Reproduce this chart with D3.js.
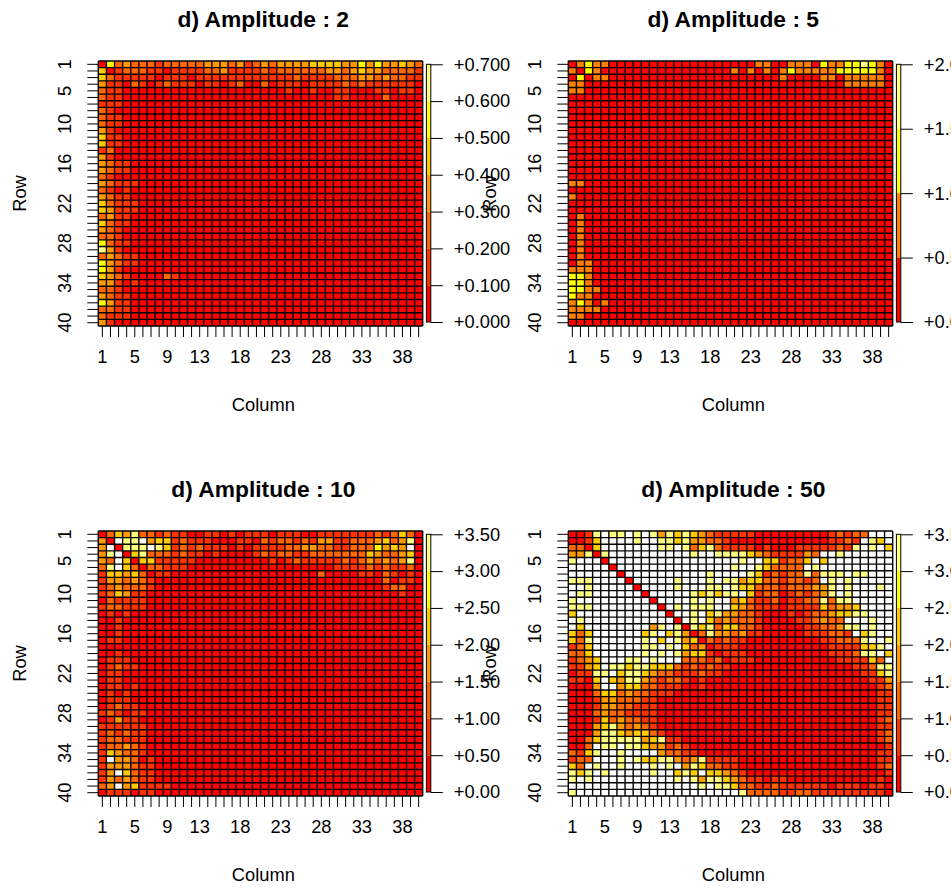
<!DOCTYPE html>
<html>
<head>
<meta charset="utf-8">
<script src="https://cdn.jsdelivr.net/npm/d3@7"></script>
<style>
html, body { margin: 0; padding: 0; background: #fff; overflow: hidden; }
svg { display: block; }
text { font-family: "Liberation Sans", Arial, sans-serif; fill: #000; }
</style>
</head>
<body>
<svg width="951" height="888"></svg>
<script>
// Each row is read off the picture, one character per column:
// 0-6 is the colour band of the cell, w is a white cell (above the colour range)
var matrixAmp2 = [
  "0523222122 2223332312 3233334444 3353533432",
  "4012221101 1112231111 2122222233 2343322221",
  "4211111011 1011111111 1111211112 2233232211",
  "3110210121 1101101200 2011101111 2121111110",
  "2110000000 0000000000 0001001001 1000110110",
  "2110000000 0000000000 0000000001 1000020000",
  "1110000000 0000000000 0000000000 0000000000",
  "2100000000 0000000000 0000000000 0000000000",
  "2110000000 0000000000 0000000000 0000000000",
  "2110000000 0000000000 0000000000 0000000000",
  "3100000000 0000000000 0000000000 0000000000",
  "4110000000 0000000000 0000000000 0000000000",
  "4110000000 0000000000 0000000000 0000000000",
  "1200000000 0000000000 0000000000 0000000000",
  "3100000000 0000000000 0000000000 0000000000",
  "3211000000 0000000000 0000000000 0000000000",
  "3211000000 0000000000 0000000000 0000000000",
  "2100000000 0000000000 0000000000 0000000000",
  "3211100000 0000000000 0000000000 0000000000",
  "2101000000 0000000000 0000000000 0000000000",
  "3211000000 0000000000 0000000000 0000000000",
  "4211100000 0000000000 0000000000 0000000000",
  "4311100000 0000000000 0000000000 0000000000",
  "2311000000 0000000000 0000000000 0000000000",
  "4211000000 0000000000 0000000000 0000000000",
  "3210000000 0000000000 0000000000 0000000000",
  "2210000000 0000000000 0000000000 0000000000",
  "5211000000 0000000000 0000000000 0000000000",
  "6310000000 0000000000 0000000000 0000000000",
  "2321100000 0000000000 0000000000 0000000000",
  "5321100000 0000000000 0000000000 0000000000",
  "5310000000 0000000000 0000000000 0000000000",
  "4321000021 0000000000 0000000000 0000000000",
  "3310100000 0000000000 0000000000 0000000000",
  "2210000000 0000000000 0000000000 0000000000",
  "3211000000 0000000000 0000000000 0000000000",
  "5311000000 0000000000 0000000000 0000000000",
  "2211000000 0000000000 0000000000 0000000000",
  "2111000000 0000000000 0000000000 0000000000",
  "3100000000 0000000000 0000000000 0000000000"
];

var matrixAmp5 = [
  "0121100000 0000000000 0001100111 0211223210",
  "1021000000 0000000000 1010101211 1112222210",
  "0201100000 0000000000 0000001000 0110111110",
  "1100000000 0000000000 0000000000 0000111110",
  "1100000000 0000000000 0000000000 0000000000",
  "0000000000 0000000000 0000000000 0000000000",
  "0000000000 0000000000 0000000000 0000000000",
  "0000000000 0000000000 0000000000 0000000000",
  "0000000000 0000000000 0000000000 0000000000",
  "0000000000 0000000000 0000000000 0000000000",
  "0000000000 0000000000 0000000000 0000000000",
  "0000000000 0000000000 0000000000 0000000000",
  "0000000000 0000000000 0000000000 0000000000",
  "0000000000 0000000000 0000000000 0000000000",
  "0000000000 0000000000 0000000000 0000000000",
  "0000000000 0000000000 0000000000 0000000000",
  "0000000000 0000000000 0000000000 0000000000",
  "0000000000 0000000000 0000000000 0000000000",
  "1100000000 0000000000 0000000000 0000000000",
  "0000000000 0000000000 0000000000 0000000000",
  "1000000000 0000000000 0000000000 0000000000",
  "0000000000 0000000000 0000000000 0000000000",
  "0000000000 0000000000 0000000000 0000000000",
  "0100000000 0000000000 0000000000 0000000000",
  "0100000000 0000000000 0000000000 0000000000",
  "0100000000 0000000000 0000000000 0000000000",
  "0100000000 0000000000 0000000000 0000000000",
  "0100000000 0000000000 0000000000 0000000000",
  "0100000000 0000000000 0000000000 0000000000",
  "0100000000 0000000000 0000000000 0000000000",
  "0110000000 0000000000 0000000000 0000000000",
  "1110000000 0000000000 0000000000 0000000000",
  "2210000000 0000000000 0000000000 0000000000",
  "2210000000 0000000000 0000000000 0000000000",
  "2211000000 0000000000 0000000000 0000000000",
  "2110000000 0000000000 0000000000 0000000000",
  "1210100000 0000000000 0000000000 0000000000",
  "1111000000 0000000000 0000000000 0000000000",
  "1100000000 0000000000 0000000000 0000000000",
  "0000000000 0000000000 0000000000 0000000000"
];

var matrixAmp10 = [
  "0243622121 1001101011 1011100111 1111212420",
  "30w66w3441 2111000110 2122121331 1222342360",
  "3w0666w641 2121110101 1112233221 12225343w0",
  "36w0462221 2110100001 2122112222 2224322340",
  "32w4044111 1100000000 0101211111 2123232360",
  "26w4202211 1000000000 0000000001 1112121120",
  "1443420110 0000000000 0000000200 0011021010",
  "1332321000 0000000000 0000000000 0000020110",
  "1232221000 0000000000 0000000000 0000012200",
  "1243110000 0000000000 0000000000 0000000100",
  "0211110000 0000000000 0000000000 0000000000",
  "1221110000 0000000000 0000000000 0000000000",
  "0101000000 0000000000 0000000000 0000000000",
  "0010000000 0000000000 0000000000 0000000000",
  "0010000000 0000000000 0000000000 0000000000",
  "0010000000 0000000000 0000000000 0000000000",
  "0110000000 0000000000 0000000000 0000000000",
  "0000000000 0000000000 0000000000 0000000000",
  "0010000000 0000000000 0000000000 0000000000",
  "0111000000 0000000000 0000000000 0000000000",
  "0121100000 0000000000 0000000000 0000000000",
  "0110000000 0000000000 0000000000 0000000000",
  "0110000000 0000000000 0000000000 0000000000",
  "0110100000 0000000000 0000000000 0000000000",
  "0101000000 0000000000 0000000000 0000000000",
  "0111000000 0000000000 0000000000 0000000000",
  "0121100000 0000000000 0000000000 0000000000",
  "1210110000 0000000000 0000000000 0000000000",
  "0131100000 0000000000 0000000000 0000000000",
  "1111110000 0000000000 0000000000 0000000000",
  "1212110000 0000000000 0000000000 0000000000",
  "1221110000 0000000000 0000000000 0000000000",
  "1223210000 0000000000 0000000000 0000000000",
  "1432210000 0000000000 0000000000 0000000000",
  "1w33201000 0000000000 0000000000 0000000000",
  "1333211000 0000000000 0000000000 0000000000",
  "13w4211000 0000000000 0000000000 0000000000",
  "1323211000 0000000000 0000000000 0000000000",
  "23w3411110 0000000000 0000000000 0000000000",
  "0111011000 0000000000 0000000000 0000000000"
];

var matrixAmp50 = [
  "0016w66w6w 6364643211 1110000000 0012122www",
  "0014wwww6w w664633221 0000000000 001121w64w",
  "2204wwwwww w66w624621 1110100011 111216w6w4",
  "33606wwwww wwwww6ww66 6643211113 2ww6wwwwww",
  "6www0wwwww wwwwwwwwww w6ww441224 w4wwwwwwww",
  "wwwww0wwww wwwwwwwwww 6ww642222w 6wwwwwwwww",
  "wwwwww0www wwwwwww6ww ww64121226 2666w66www",
  "666wwww0ww www6www6w6 6344221221 2w6w6wwwww",
  "ww6wwwww0w www6www66w 6442221222 336w6www6w",
  "w66wwwwww0 wwwww64646 6w41220121 236w6wwwww",
  "6wwwwwwwww 0wwww6w6ww 3421120112 26266wwwww",
  "666wwwwwww w0w6w666ww 4321110111 142334wwww",
  "4wwwwwwwww ww0ww6w463 3221000101 2234466www",
  "w6wwwwwwww www0w6w423 2221000011 2322www6ww",
  "w4wwwwwwww 36w6064624 4221000001 122366w6ww",
  "424wwwwww4 6w46302633 2311000001 11221w46ww",
  "426wwwwww6 w4w6340212 1100000000 0112226ww6",
  "124wwwwww6 6w6w423011 1000000000 001111446w",
  "224wwwwww6 w6w6344101 1100000000 00111266w4",
  "1234www66w 6www222120 1110000000 000111142w",
  "1134w66466 4442121211 0000000000 0000011266",
  "01166w4664 3221112110 0000000000 0000001146",
  "1104w43663 2122101000 0000000000 0000000113",
  "0003ww3442 2111001000 0000000000 0000000012",
  "0002442322 1110000000 0000000000 0000000011",
  "0001332221 1000000000 0000000000 0000000011",
  "0001332211 1000000000 0000000000 0000000011",
  "0002322111 1000000000 0000000000 0000000011",
  "0001423221 1000000000 0000000000 0000000012",
  "0003463232 1000000000 0000000000 0000000011",
  "0003664344 2100000000 0000000000 0000000012",
  "0024666663 4611000000 0000000000 0000000012",
  "002w66w664 3312100000 0000000000 0000000001",
  "2146ww6www w322110000 0000000000 0000000011",
  "122www6w64 4663236111 1000000000 0000000011",
  "42w6ww6www 6w6w364221 1000000000 0000000012",
  "646w6wwwww 6ww464w443 2100000000 0000000001",
  "6w6wwwwwww www6w63664 3211011000 0000000010",
  "wwwwwwwwww wwwwww6w66 4221121111 1101110110",
  "6wwwwwwwww wwwwwwwwww w622221122 1111111110"
];

var amplitudes = [2, 5, 10, 50];
var matrices = [matrixAmp2, matrixAmp5, matrixAmp10, matrixAmp50];
var zMax = [0.7, 2, 3.5, 3.5];
var legendTicks = [
  [0, 0.1, 0.2, 0.3, 0.4, 0.5, 0.6, 0.7],
  [0, 0.5, 1, 1.5, 2],
  [0, 0.5, 1, 1.5, 2, 2.5, 3, 3.5],
  [0, 0.5, 1, 1.5, 2, 2.5, 3, 3.5]
];
var legendDecimals = [3, 3, 2, 2];
var rowLabels = [1, 5, 10, 16, 22, 28, 34, 40];
var columnLabels = [1, 5, 9, 13, 18, 23, 28, 33, 38];

// heat.colors(7) and heat.colors(4) of R
var heat7 = ["#FF0000", "#FF3300", "#FF6600", "#FF9900", "#FFCC00", "#FFFF00", "#FFFF80"];
var heat4 = ["#FF0000", "#FF8000", "#FFFF00", "#FFFF80"];
var palettes = [heat7, heat4, heat7, heat7];

var labelSize = "18.3px";
var titleSize = "22.8px";

var svg = d3.select("svg");
var indices = d3.range(1, 41);

// Turn a matrix row into values: the middle of the band, above the range for w
function parseRow(row, zmax, nBands) {
  return row.replace(/ /g, "").split("").map(function (c) {
    return c == "w" ? zmax * 1.2 : (+c + 0.5) * zmax / nBands;
  });
}

function drawPanel(i, left, top) {
  var plotW = 324.4, plotH = 265;
  var colors = palettes[i];
  var zmax = zMax[i];
  var g = svg.append("g").attr("transform", "translate(" + left + "," + top + ")");

  var x = d3.scaleBand().domain(indices).range([0, plotW]);
  var y = d3.scaleBand().domain(indices).range([0, plotH]);
  var color = d3.scaleQuantize().domain([0, zmax]).range(colors);

  var cells = [];
  matrices[i].forEach(function (row, r) {
    parseRow(row, zmax, colors.length).forEach(function (v, c) {
      cells.push({ row: r + 1, col: c + 1, value: v });
    });
  });

  g.selectAll("rect.cell")
    .data(cells)
    .enter()
    .append("rect")
    .attr("class", "cell")
    .attr("x", function (d) { return x(d.col); })
    .attr("y", function (d) { return y(d.row); })
    .attr("width", x.bandwidth())
    .attr("height", y.bandwidth())
    .attr("fill", function (d) { return d.value > zmax ? "#fff" : color(d.value); });

  // grid over the cells, each line drawn once
  var edges = d3.range(0, 41);
  g.selectAll("line.vgrid")
    .data(edges)
    .enter()
    .append("line")
    .attr("class", "vgrid")
    .attr("x1", function (d) { return d * x.step(); })
    .attr("x2", function (d) { return d * x.step(); })
    .attr("y1", 0)
    .attr("y2", plotH)
    .attr("stroke", "#000")
    .attr("stroke-width", 1.4);
  g.selectAll("line.hgrid")
    .data(edges)
    .enter()
    .append("line")
    .attr("class", "hgrid")
    .attr("x1", 0)
    .attr("x2", plotW)
    .attr("y1", function (d) { return d * y.step(); })
    .attr("y2", function (d) { return d * y.step(); })
    .attr("stroke", "#000")
    .attr("stroke-width", 1.4);

  // axes
  var axisLeft = d3.axisLeft(y)
    .tickValues(indices)
    .tickSize(11)
    .tickPadding(16)
    .tickFormat(function (d) { return rowLabels.indexOf(d) >= 0 ? d : ""; });
  var yAxis = g.append("g").call(axisLeft);
  yAxis.selectAll("text")
    .attr("transform", function () {
      return "rotate(-90," + (+d3.select(this).attr("x")) + ",0)";
    })
    .attr("dy", 0)
    .attr("text-anchor", "middle")
    .style("font-size", labelSize);

  var axisBottom = d3.axisBottom(x)
    .tickValues(indices)
    .tickSize(11)
    .tickPadding(13)
    .tickFormat(function (d) { return columnLabels.indexOf(d) >= 0 ? d : ""; });
  var xAxis = g.append("g").attr("transform", "translate(0," + plotH + ")").call(axisBottom);
  xAxis.selectAll("text").style("font-size", labelSize);

  [yAxis, xAxis].forEach(function (a) {
    a.selectAll("line").attr("stroke", "#000");
    a.select(".domain").remove();
  });

  // colour legend
  var legendX = plotW + 3.7, legendW = 4.4;
  var yLegend = d3.scaleLinear().domain([0, zmax]).range([261, 3.3]);
  var band = zmax / colors.length;
  g.selectAll("rect.band")
    .data(colors)
    .enter()
    .append("rect")
    .attr("class", "band")
    .attr("x", legendX)
    .attr("y", function (d, k) { return yLegend((k + 1) * band); })
    .attr("width", legendW)
    .attr("height", function (d, k) { return yLegend(k * band) - yLegend((k + 1) * band); })
    .attr("fill", function (d) { return d; });
  g.append("rect")
    .attr("x", legendX)
    .attr("y", yLegend(zmax))
    .attr("width", legendW)
    .attr("height", yLegend(0) - yLegend(zmax))
    .attr("fill", "none")
    .attr("stroke", "#000");
  var axisRight = d3.axisRight(yLegend)
    .tickValues(legendTicks[i])
    .tickSize(12)
    .tickPadding(11)
    .tickFormat(function (d) { return "+" + d.toFixed(legendDecimals[i]); });
  var lAxis = g.append("g").attr("transform", "translate(" + (legendX + legendW) + ",0)").call(axisRight);
  lAxis.select(".domain").remove();
  lAxis.selectAll("line").attr("stroke", "#000");
  lAxis.selectAll("text").style("font-size", labelSize);

  // titles
  g.append("text")
    .attr("x", 165)
    .attr("y", -34)
    .attr("text-anchor", "middle")
    .style("font-size", titleSize)
    .style("font-weight", "bold")
    .text("d) Amplitude : " + amplitudes[i]);
  g.append("text")
    .attr("x", 165)
    .attr("y", plotH + 85)
    .attr("text-anchor", "middle")
    .style("font-size", labelSize)
    .text("Column");
  g.append("text")
    .attr("transform", "translate(-72.5," + (plotH / 2) + ") rotate(-90)")
    .attr("text-anchor", "middle")
    .style("font-size", labelSize)
    .text("Row");
}

drawPanel(0, 98.3, 61);
drawPanel(1, 568.3, 61);
drawPanel(2, 98.3, 531);
drawPanel(3, 568.3, 531);
</script>
</body>
</html>
